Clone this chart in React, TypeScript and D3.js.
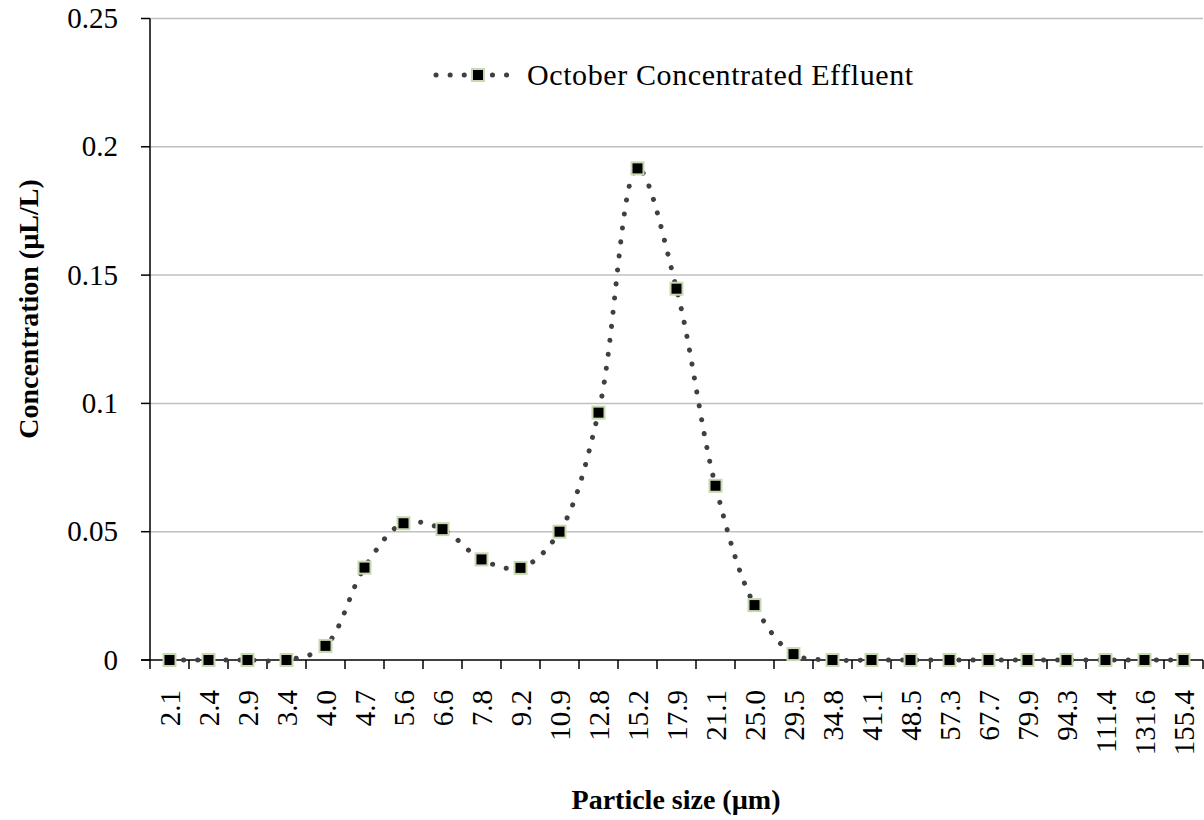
import React from "react";
import * as d3 from "d3";

const categories: string[] = [
  "2.1", "2.4", "2.9", "3.4", "4.0", "4.7", "5.6", "6.6", "7.8", "9.2",
  "10.9", "12.8", "15.2", "17.9", "21.1", "25.0", "29.5", "34.8", "41.1",
  "48.5", "57.3", "67.7", "79.9", "94.3", "111.4", "131.6", "155.4",
];
const concentration: number[] = [
  0, 0, 0, 0, 0.0055, 0.036, 0.0533, 0.051, 0.0392, 0.0359,
  0.05, 0.0964, 0.1916, 0.1447, 0.0679, 0.0214, 0.0023, 0, 0,
  0, 0, 0, 0, 0, 0, 0, 0,
];
const yTicks: number[] = [0, 0.05, 0.1, 0.15, 0.2, 0.25];
const seriesName = "October Concentrated Effluent";

const W = 1204;
const H = 820;
const margin = { left: 150, right: 1203, top: 18.5, bottom: 660 };
const FONT = "'Liberation Serif', 'Times New Roman', serif";

export default function App() {
  const x = d3
    .scaleBand<string>()
    .domain(categories)
    .range([margin.left, margin.right])
    .paddingInner(0)
    .paddingOuter(0);
  const y = d3.scaleLinear().domain([0, 0.25]).range([margin.bottom, margin.top]);
  const cx = (c: string) => (x(c) as number) + x.bandwidth() / 2;

  const line = d3
    .line<number>()
    .x((_, i) => cx(categories[i]))
    .y((d) => y(d))
    .curve(d3.curveCatmullRom.alpha(0.5));
  const path = line(concentration) || "";

  const boundaries = categories.map((c) => x(c) as number).concat([margin.right]);

  const ms = 12;
  const lineStyle = {
    fill: "none",
    stroke: "#404040",
    strokeWidth: 5,
    strokeLinecap: "round" as const,
    strokeDasharray: "0.1 14",
  };

  return (
    <svg width={W} height={H} style={{ display: "block", position: "absolute", left: 0, top: 0 }}>
      <rect x={0} y={0} width={W} height={H} fill="#fff" />
      {/* gridlines */}
      {yTicks.filter((t) => t > 0).map((t) => (
        <line key={t} x1={margin.left} x2={margin.right} y1={y(t)} y2={y(t)} stroke="#c0c0c0" strokeWidth={1.5} />
      ))}
      {/* y axis */}
      <line x1={margin.left} x2={margin.left} y1={margin.top} y2={margin.bottom} stroke="#000" strokeWidth={1.5} />
      {yTicks.map((t) => (
        <g key={t}>
          <line x1={margin.left - 9} x2={margin.left} y1={y(t)} y2={y(t)} stroke="#000" strokeWidth={1.5} />
          <text x={118} y={y(t) + 9.5} textAnchor="end" fontFamily={FONT} fontSize={29} fill="#000">
            {String(t)}
          </text>
        </g>
      ))}
      {/* x axis */}
      <line x1={margin.left - 9} x2={margin.right} y1={margin.bottom} y2={margin.bottom} stroke="#000" strokeWidth={1.5} />
      {boundaries.map((b, i) => (
        <line key={i} x1={b} x2={b} y1={margin.bottom} y2={margin.bottom + 9} stroke="#000" strokeWidth={1.5} />
      ))}
      {categories.map((c) => (
        <text
          key={c}
          transform={`translate(${cx(c) + 10},${690}) rotate(-90)`}
          textAnchor="end"
          fontFamily={FONT}
          fontSize={29}
          fill="#000"
        >
          {c}
        </text>
      ))}
      {/* series */}
      <path d={path} {...lineStyle} />
      {concentration.map((v, i) => (
        <rect
          key={i}
          x={cx(categories[i]) - ms / 2}
          y={y(v) - ms / 2}
          width={ms}
          height={ms}
          fill="#000"
          stroke="#c6d9b0"
          strokeWidth={2}
        />
      ))}
      {/* legend */}
      <line x1={436} x2={518} y1={75} y2={75} {...lineStyle} />
      <rect x={478 - ms / 2} y={75 - ms / 2} width={ms} height={ms} fill="#000" stroke="#c6d9b0" strokeWidth={2} />
      <text x={527} y={85} fontFamily={FONT} fontSize={30} letterSpacing={0.6} fill="#000">
        {seriesName}
      </text>
      {/* axis titles */}
      <text
        transform={`translate(${38},${309}) rotate(-90)`}
        textAnchor="middle"
        fontFamily={FONT}
        fontSize={28}
        fontWeight="bold"
        fill="#000"
      >
        Concentration (µL/L)
      </text>
      <text x={676} y={809} textAnchor="middle" fontFamily={FONT} fontSize={28} fontWeight="bold" fill="#000">
        Particle size (µm)
      </text>
    </svg>
  );
}
